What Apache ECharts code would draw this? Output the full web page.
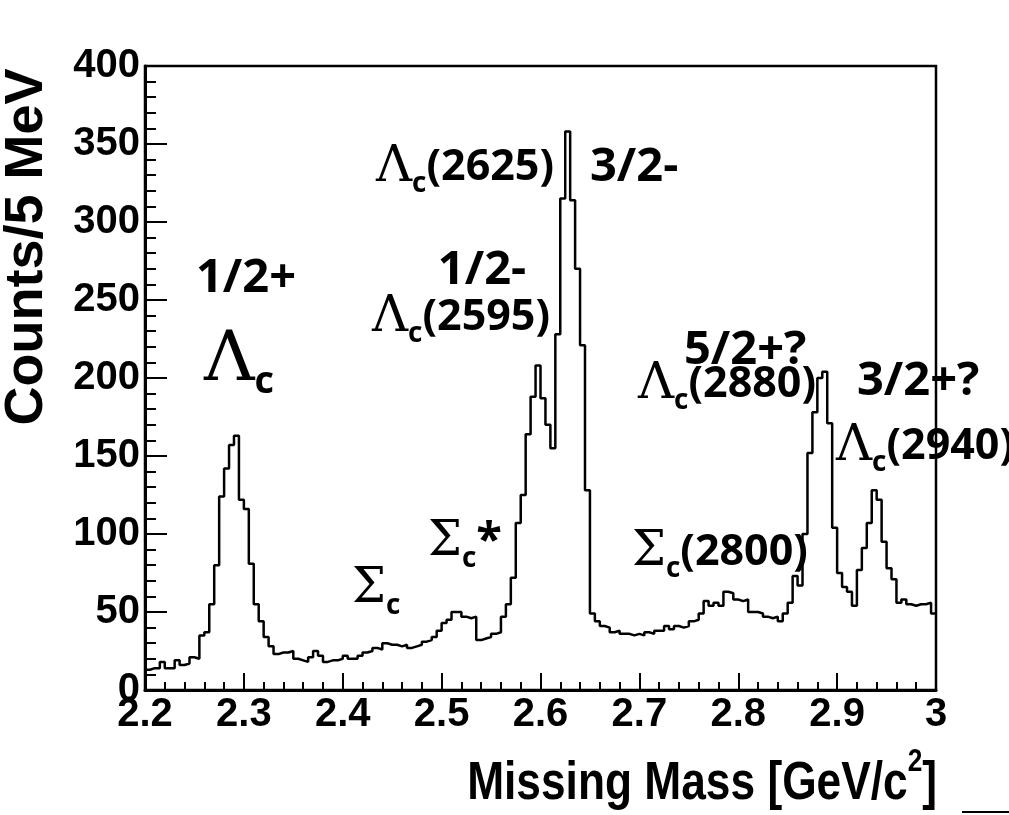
<!DOCTYPE html>
<html>
<head>
<meta charset="utf-8">
<title>Missing Mass</title>
<script src="https://cdn.jsdelivr.net/npm/echarts@6/dist/echarts.min.js"></script>
<style>
  html, body { margin: 0; padding: 0; background: #fff; }
  #chart { width: 1009px; height: 815px; }
</style>
</head>
<body>
<div id="chart"></div>
<script>
// histogram: 5 MeV bins from 2200 to 3000 MeV
const binStart = 2200
const binWidth = 5
const counts = [
  13, 14, 14, 18, 14, 14, 19, 16, 17, 21,
  20, 35, 37, 55, 80, 124, 142, 157, 163, 122,
  116, 81, 55, 44, 34, 28, 23, 24, 24, 25,
  20, 19, 18, 21, 25, 22, 18, 19, 19, 20,
  22, 20, 20, 22, 24, 25, 27, 26, 30, 29,
  29, 28, 29, 27, 28, 29, 31, 32, 34, 38,
  43, 45, 50, 50, 47, 46, 47, 32, 33, 34,
  36, 37, 47, 55, 72, 107, 125, 164, 188, 208,
  187, 170, 155, 228, 315, 358, 314, 270, 221, 128,
  49, 44, 41, 40, 37, 38, 36, 36, 35, 36,
  35, 37, 36, 38, 38, 41, 39, 41, 40, 41,
  44, 45, 49, 57, 54, 56, 54, 63, 62, 58,
  57, 58, 50, 50, 49, 47, 46, 47, 44, 49,
  56, 73, 67, 100, 152, 178, 200, 204, 171, 104,
  75, 66, 63, 54, 77, 91, 107, 128, 122, 95,
  78, 71, 56, 58, 55, 54, 55, 55, 56, 49
]
const xTickLabels = ['2.2', '2.3', '2.4', '2.5', '2.6', '2.7', '2.8', '2.9', '3']
const yTickLabels = ['0', '50', '100', '150', '200', '250', '300', '350', '400']

// step points at bin left edges, plus the closing edge
const histData = counts.map((c, i) => [binStart + i * binWidth, c])
histData.push([binStart + counts.length * binWidth, counts[counts.length - 1]])

const sans = '"Liberation Sans", Arial, sans-serif'
const serif = '"DejaVu Serif", "Liberation Serif", serif'

// rich styles for the particle labels
const rich = {
  L: { fontFamily: serif, fontSize: 50, fill: '#000' },
  B: { fontFamily: serif, fontSize: 70, fill: '#000' },
  S: { fontFamily: serif, fontSize: 48, fill: '#000' },
  s: { fontFamily: '"Open Sans"', fontWeight: 'bold', fontSize: 28, fill: '#000', padding: [32, 0, 0, 0] },
  bs: { fontFamily: '"Open Sans"', fontWeight: 'bold', fontSize: 38, fill: '#000', padding: [40, 0, 0, 0] },
  t: { fontFamily: '"Open Sans"', fontWeight: 'bold', fontSize: 47, fill: '#000' },
  n: { fontFamily: '"Open Sans"', fontWeight: 'bold', fontSize: 43, fill: '#000' }
}

function label(text, x, y, align) {
  return {
    type: 'text', x: x, y: y, z: 50,
    style: { text: text, rich: rich, align: align || 'left', verticalAlign: 'middle', fill: '#000' }
  }
}

const chart = echarts.init(document.getElementById('chart'))
chart.setOption({
  animation: false,
  backgroundColor: '#fff',
  grid: {
    left: 145, right: 73, top: 66, bottom: 125,
    show: true, borderColor: '#000', borderWidth: 2.5
  },
  xAxis: {
    type: 'value',
    min: 2200, max: 3000, interval: 100,
    axisLine: { show: true, onZero: false, lineStyle: { color: '#000', width: 3 } },
    axisTick: { inside: true, length: 17, lineStyle: { color: '#000', width: 2 } },
    minorTick: { show: true, splitNumber: 5, length: 8, lineStyle: { color: '#000', width: 2 } },
    splitLine: { show: false },
    axisLabel: {
      color: '#000', fontFamily: sans, fontWeight: 'bold', fontSize: 40, margin: 5,
      formatter: v => xTickLabels[Math.round((v - 2200) / 100)]
    }
  },
  yAxis: {
    type: 'value',
    min: 0, max: 400, interval: 50,
    axisLine: { show: true, lineStyle: { color: '#000', width: 3 } },
    axisTick: { inside: true, length: 22, lineStyle: { color: '#000', width: 2 } },
    minorTick: { show: true, splitNumber: 5, length: 11, lineStyle: { color: '#000', width: 2 } },
    splitLine: { show: false },
    axisLabel: {
      color: '#000', fontFamily: sans, fontWeight: 'bold', fontSize: 40, margin: 5,
      formatter: v => yTickLabels[Math.round(v / 50)]
    }
  },
  series: [{
    type: 'line',
    step: 'end',
    data: histData,
    showSymbol: false,
    lineStyle: { color: '#000', width: 2.5 },
    z: 3
  }],
  graphic: [
    {
      type: 'text', x: 27, y: 247, rotation: Math.PI / 2,
      style: { text: 'Counts/5 MeV', font: 'bold 54px ' + sans, fill: '#000', align: 'center', verticalAlign: 'middle' }
    },
    {
      type: 'text', x: 937, y: 784, scaleX: 0.82,
      style: {
        text: 'Missing Mass [GeV/c{p|2}]',
        font: 'bold 54px ' + sans, fill: '#000', align: 'right', verticalAlign: 'middle',
        rich: { p: { fontFamily: sans, fontWeight: 'bold', fontSize: 32, fill: '#000', padding: [0, 0, 44, 0] } }
      }
    },
    { type: 'line', shape: { x1: 962, y1: 812, x2: 1009, y2: 812 }, style: { stroke: '#000', lineWidth: 2 } },
    label('{t|1/2+}', 246, 279, 'center'),
    label('{B|Λ}{bs|c}', 239, 362, 'center'),
    label('{L|Λ}{s|c}{n|(2625)}', 554, 168, 'right'),
    label('{t|3/2-}', 590, 168),
    label('{t|1/2-}', 482, 271, 'center'),
    label('{L|Λ}{s|c}{n|(2595)}', 372, 318),
    label('{S|Σ}{s|c}', 352, 590),
    label('{S|Σ}{s|c}{t|*}', 428, 543),
    label('{S|Σ}{s|c}{n|(2800)}', 632, 553),
    label('{t|5/2+?}', 684, 351),
    label('{L|Λ}{s|c}{n|(2880)}', 638, 385),
    label('{t|3/2+?}', 857, 382),
    label('{L|Λ}{s|c}{n|(2940)}', 836, 447)
  ]
})
</script>
</body>
</html>
